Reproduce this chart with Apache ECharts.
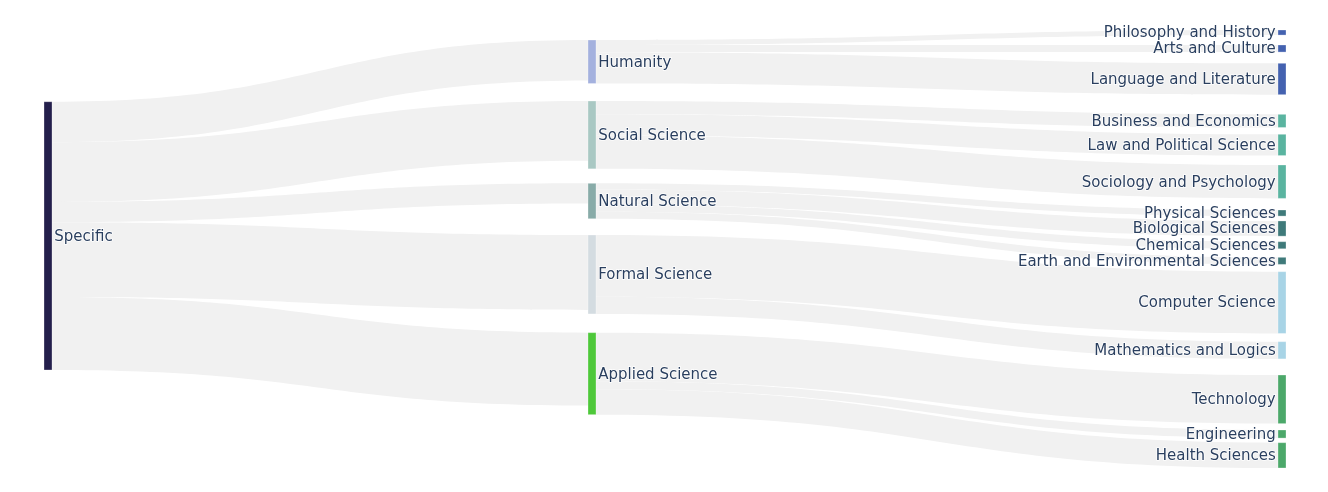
<!DOCTYPE html>
<html>
<head>
<meta charset="utf-8">
<script src="https://cdn.jsdelivr.net/npm/echarts@6/dist/echarts.min.js"></script>
<style>html,body{margin:0;padding:0;background:#fff}#c{width:1328px;height:492px}</style>
</head>
<body>
<div id="c"></div>
<script>
// ---- data ----
const rootNodes = ['Specific'];
const fieldNodes = ['Humanity', 'Social Science', 'Natural Science', 'Formal Science', 'Applied Science'];
const rootToField = [40, 59, 20, 74, 72];

const subNodes = {
  'Humanity': ['Philosophy and History', 'Arts and Culture', 'Language and Literature'],
  'Social Science': ['Business and Economics', 'Law and Political Science', 'Sociology and Psychology'],
  'Natural Science': ['Physical Sciences', 'Biological Sciences', 'Chemical Sciences', 'Earth and Environmental Sciences'],
  'Formal Science': ['Computer Science', 'Mathematics and Logics'],
  'Applied Science': ['Technology', 'Engineering', 'Health Sciences']
};
const subValues = {
  'Humanity': [5, 7, 31],
  'Social Science': [13, 21, 33],
  'Natural Science': [6, 15, 7, 7],
  'Formal Science': [61, 17],
  'Applied Science': [48, 8, 25]
};

// ---- styles ----
const rootColor = '#241f4c';
const fieldColors = ['#a4b1de', '#a9c8c3', '#88aba8', '#d4dce1', '#4ec83a'];
const subColors = ['#4462b0', '#5ab4a0', '#3f7a7a', '#a8d4e6', '#4ca86a'];

// ---- node placement (like plotly node.x / node.y arrangement), as fractions of the plot area ----
const columnX = { root: 0, field: 0.438 };
const nodeTopY = {
  'Specific': 0.1637,
  'Humanity': 0.0228, 'Social Science': 0.1621, 'Natural Science': 0.350, 'Formal Science': 0.468, 'Applied Science': 0.691,
  'Philosophy and History': 0.0, 'Arts and Culture': 0.0342, 'Language and Literature': 0.076,
  'Business and Economics': 0.1925, 'Law and Political Science': 0.2381, 'Sociology and Psychology': 0.3082,
  'Physical Sciences': 0.411, 'Biological Sciences': 0.436, 'Chemical Sciences': 0.4833, 'Earth and Environmental Sciences': 0.519,
  'Computer Science': 0.5518, 'Mathematics and Logics': 0.7116,
  'Technology': 0.7877, 'Engineering': 0.9132, 'Health Sciences': 0.9422
};

const nodes = [];
const links = [];
nodes.push({ name: rootNodes[0], localX: columnX.root, localY: nodeTopY[rootNodes[0]],
  itemStyle: { color: rootColor }, label: { position: 'right' } });
fieldNodes.forEach((f, i) => {
  nodes.push({ name: f, localX: columnX.field, localY: nodeTopY[f],
    itemStyle: { color: fieldColors[i] }, label: { position: 'right' } });
  links.push({ source: rootNodes[0], target: f, value: rootToField[i] });
});
fieldNodes.forEach((f, i) => {
  subNodes[f].forEach((s, j) => {
    nodes.push({ name: s, localY: nodeTopY[s],
      itemStyle: { color: subColors[i] }, label: { position: 'left' } });
    links.push({ source: f, target: s, value: subValues[f][j] });
  });
});

const chart = echarts.init(document.getElementById('c'));
chart.setOption({
  animation: false,
  series: [{
    type: 'sankey',
    left: 44, right: 42, top: 30, bottom: 24,
    nodeWidth: 8,
    nodeGap: 9.3,
    layoutIterations: 0,
    draggable: false,
    emphasis: { disabled: true },
    data: nodes,
    links: links,
    itemStyle: { borderWidth: 0.5, borderColor: 'rgba(255,255,255,0.6)' },
    lineStyle: { color: '#f1f1f1', opacity: 1, curveness: 0.5 },
    label: {
      color: '#2a3f5f',
      fontFamily: 'DejaVu Sans',
      fontSize: 15,
      distance: 2,
      offset: [0, 1],
      textBorderColor: '#fff',
      textBorderWidth: 1.5
    }
  }]
});
</script>
</body>
</html>
